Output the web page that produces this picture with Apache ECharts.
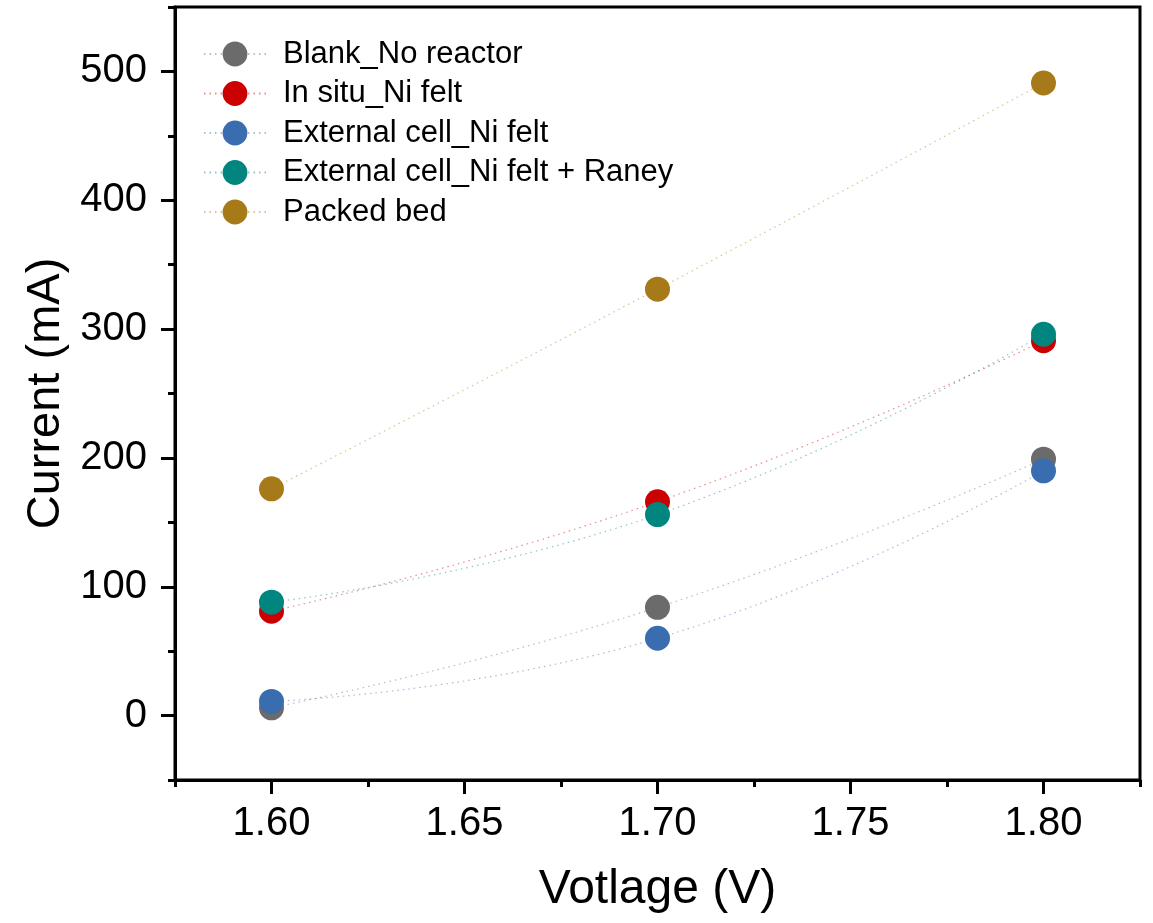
<!DOCTYPE html>
<html>
<head>
<meta charset="utf-8">
<script src="https://cdn.jsdelivr.net/npm/echarts@6/dist/echarts.min.js"></script>
<style>html,body{margin:0;padding:0;background:#fff}#c{width:1153px;height:923px}</style>
</head>
<body>
<div id="c"></div>
<script>
const voltages = [1.60, 1.70, 1.80];
const seriesNames = ['Blank_No reactor', 'In situ_Ni felt', 'External cell_Ni felt', 'External cell_Ni felt + Raney', 'Packed bed'];
const blankNoReactor = [6, 84, 199];
const inSituNiFelt = [81, 166, 291];
const externalNiFelt = [11, 60, 190];
const externalNiFeltRaney = [88, 156, 296];
const packedBed = [176, 331, 491];
const seriesColors = ['#6b6b6b', '#cc0000', '#3a6cb0', '#00857f', '#a67a18'];
const xMajorTicks = [1.60, 1.65, 1.70, 1.75, 1.80];
const xMinorTicks = [1.575, 1.625, 1.675, 1.725, 1.775, 1.825];
const yMajorTicks = [0, 100, 200, 300, 400, 500];
const yMinorTicks = [-50, 50, 150, 250, 350, 450, 550];

const allValues = [blankNoReactor, inSituNiFelt, externalNiFelt, externalNiFeltRaney, packedBed];
const font = '"Liberation Sans", Arial, sans-serif';

const series = allValues.map((vals, i) => ({
  name: seriesNames[i],
  type: 'line',
  xAxisIndex: 0,
  yAxisIndex: 0,
  smooth: 0.5,
  symbol: 'circle',
  symbolSize: 25,
  data: voltages.map((v, j) => [v, vals[j]]),
  itemStyle: { color: seriesColors[i], opacity: 1 },
  lineStyle: { color: seriesColors[i], width: 1.2, type: [1.5, 4], opacity: 0.45 },
  emphasis: { disabled: true },
  z: 3 + i
}));

const chart = echarts.init(document.getElementById('c'), null, { renderer: 'canvas' });
chart.setOption({
  animation: false,
  backgroundColor: '#fff',
  grid: { left: 175, right: 13, top: 7, bottom: 143, show: true, borderColor: '#000', borderWidth: 3, backgroundColor: 'transparent' },
  legend: {
    left: 203, top: 38.5, orient: 'vertical',
    itemWidth: 62, itemHeight: 31, itemGap: 8.5,
    data: seriesNames,
    textStyle: { fontFamily: font, fontSize: 31, color: '#000', padding: [0, 0, 0, 12] },
    padding: 0
  },
  xAxis: [
    {
      type: 'value', min: 1.575, max: 1.825, position: 'bottom',
      name: 'Votlage (V)', nameLocation: 'middle', nameGap: 86,
      nameTextStyle: { fontFamily: font, fontSize: 48, color: '#000' },
      axisLine: { show: true, onZero: false, lineStyle: { color: '#000', width: 3 } },
      axisTick: { show: true, inside: false, length: 14, customValues: xMajorTicks, lineStyle: { color: '#000', width: 3 } },
      axisLabel: { show: true, customValues: xMajorTicks, margin: 24, fontFamily: font, fontSize: 40, color: '#000', formatter: v => v.toFixed(2) },
      splitLine: { show: false }
    },
    {
      type: 'value', min: 1.575, max: 1.825, position: 'bottom',
      axisLine: { show: false, onZero: false },
      axisTick: { show: true, inside: false, length: 7, customValues: xMinorTicks, lineStyle: { color: '#000', width: 3 } },
      axisLabel: { show: false },
      splitLine: { show: false }
    }
  ],
  yAxis: [
    {
      type: 'value', min: -50, max: 550, position: 'left',
      name: 'Current (mA)', nameLocation: 'middle', nameGap: 103, nameRotate: 90,
      nameTextStyle: { fontFamily: font, fontSize: 47, color: '#000' },
      axisLine: { show: true, onZero: false, lineStyle: { color: '#000', width: 3 } },
      axisTick: { show: true, inside: false, length: 14, customValues: yMajorTicks, lineStyle: { color: '#000', width: 3 } },
      axisLabel: { show: true, customValues: yMajorTicks, margin: 28, fontFamily: font, fontSize: 40, color: '#000' },
      splitLine: { show: false }
    },
    {
      type: 'value', min: -50, max: 550, position: 'left',
      axisLine: { show: false, onZero: false },
      axisTick: { show: true, inside: false, length: 7, customValues: yMinorTicks, lineStyle: { color: '#000', width: 3 } },
      axisLabel: { show: false },
      splitLine: { show: false }
    }
  ],
  series: series
});
</script>
</body>
</html>
